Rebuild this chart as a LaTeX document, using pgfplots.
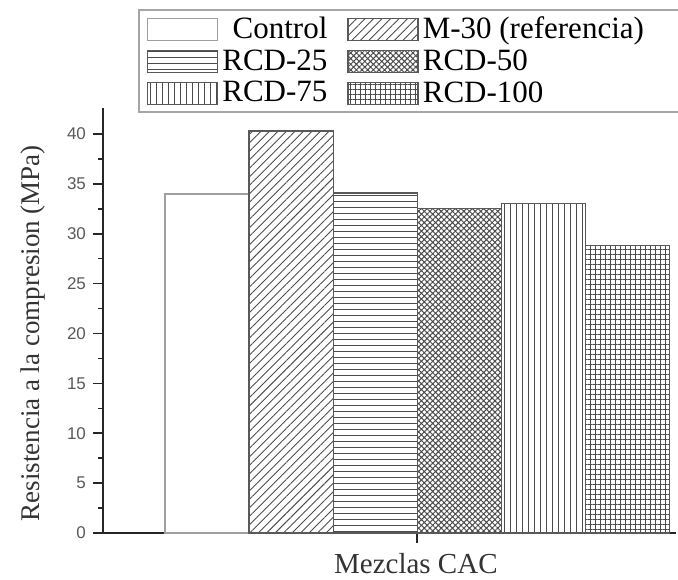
\documentclass[border=0pt]{standalone}
\usepackage{fontspec}
\setmainfont{Liberation Serif}
\newfontfamily\ticksf{Liberation Sans}
\usepackage{pgfplots}
\pgfplotsset{compat=1.18}
\usetikzlibrary{patterns.meta}
\definecolor{edge}{gray}{0.35}
\definecolor{pat}{gray}{0.3}
\begin{document}
\begin{tikzpicture}
\path[use as bounding box] (-51.5pt,-23pt) rectangle (287.5pt,266.5pt);
\begin{axis}[
  at={(0,0)}, anchor=south west,
  scale only axis, width=286.5pt, height=212.5pt,
  xmin=-1.24, xmax=5.58, ymin=0, ymax=42.6,
  axis lines=left, axis line style={-, line width=1pt, black!85},
  xtick={2.5}, xticklabels={},
  ytick={0,5,...,40}, minor y tick num=1,
  tick align=outside, major tick length=5pt, minor tick length=2.5pt,
  tick style={line width=0.8pt, black!85},
  /pgf/number format/assume math mode=true,
  yticklabel style={font=\ticksf\fontsize{8.5}{10}\selectfont, text=black!65},
  xlabel={Mezclas CAC},
  xlabel style={at={(axis description cs:0.546,-0.072)}, anchor=center, font=\fontsize{14.5}{16}\selectfont, text=black!80},
  ylabel={Resistencia a la compresion (MPa)},
  ylabel style={at={(axis description cs:-0.122,0.47)}, anchor=center, font=\fontsize{13.5}{15}\selectfont, text=black!80},
  mylegend/.style={legend image code/.code={\draw[##1] (0pt,-5.5pt) rectangle (35pt,5.5pt);}},
  legend columns=2,
  legend style={at={(axis description cs:0.061,1.233)}, anchor=north west,
    draw=gray!70, line width=1pt, font=\fontsize{15.5}{16}\selectfont,
    inner xsep=4pt, inner ysep=1.5pt, row sep=0pt,
    /tikz/every even column/.append style={column sep=8pt}},
  legend cell align=left,
  clip=false,
]
\addplot[ybar, bar width=1, bar shift=0pt, draw=gray!75, line width=0.7pt, fill=white, mylegend] coordinates {(0,34.0)};
\addlegendentry{\,\,Control}
\addplot[ybar, bar width=1, bar shift=0pt, draw=edge, line width=0.7pt, pattern={Lines[angle=45,distance=3pt,line width=0.45pt]}, pattern color=pat, mylegend] coordinates {(1,40.3)};
\addlegendentry{M-30 (referencia)\rule{40pt}{0pt}}
\addplot[ybar, bar width=1, bar shift=0pt, draw=edge, line width=0.7pt, pattern={Lines[angle=0,distance=3pt,line width=0.45pt]}, pattern color=pat, mylegend] coordinates {(2,34.1)};
\addlegendentry{RCD-25}
\addplot[ybar, bar width=1, bar shift=0pt, draw=edge, line width=0.7pt, pattern={Hatch[angle=45,distance=2pt,line width=0.5pt]}, pattern color=pat, mylegend] coordinates {(3,32.5)};
\addlegendentry{RCD-50}
\addplot[ybar, bar width=1, bar shift=0pt, draw=edge, line width=0.7pt, pattern={Lines[angle=90,distance=3pt,line width=0.45pt]}, pattern color=pat, mylegend] coordinates {(4,33.0)};
\addlegendentry{RCD-75}
\addplot[ybar, bar width=1, bar shift=0pt, draw=edge, line width=0.7pt, pattern={Hatch[angle=0,distance=2.5pt,line width=0.45pt]}, pattern color=pat, mylegend] coordinates {(5,28.8)};
\addlegendentry{RCD-100}
\end{axis}
\end{tikzpicture}
\end{document}
